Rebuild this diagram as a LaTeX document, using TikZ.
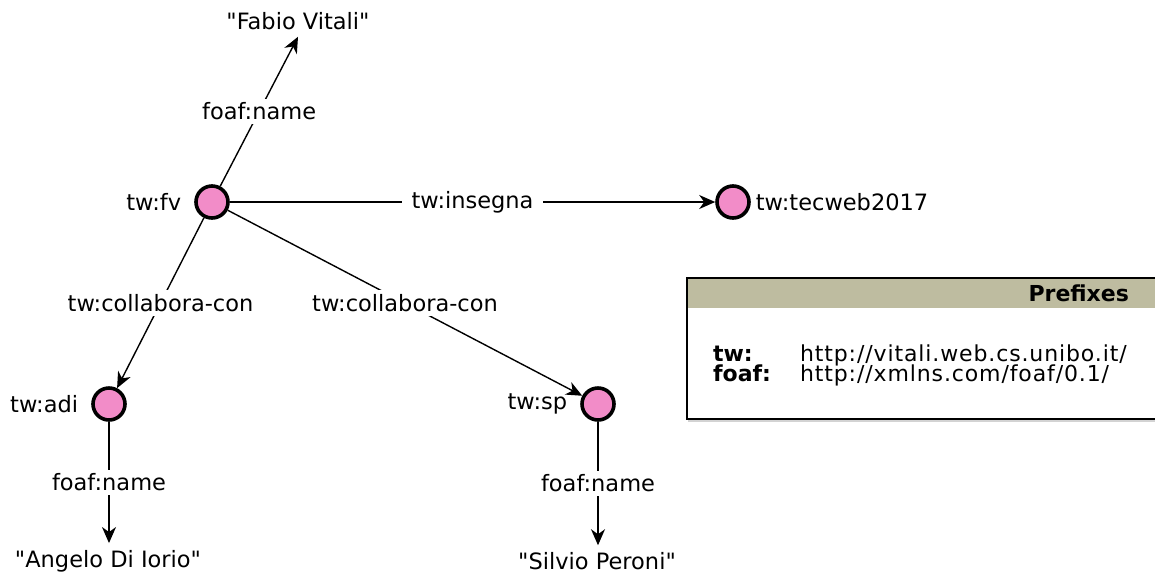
\documentclass[tikz,border=0pt]{standalone}
\usepackage{fontspec}
\setmainfont{DejaVu Sans}
\usetikzlibrary{arrows.meta,shadows}

\definecolor{respink}{RGB}{242,140,200}
\definecolor{headgray}{RGB}{190,188,160}

\begin{document}
\begin{tikzpicture}[x=0.5pt,y=-0.5pt,font=\fontsize{11.25}{13}\selectfont]

    \tikzset{res/.style={%
      draw,%
      circle,%
      line width=1.8pt,%
      fill=respink,%
      minimum size=16pt,%
      inner sep=0pt}%
    };
    \tikzset{prop/.style={%
      fill=white,%
      inner xsep=5pt,%
      inner ysep=2pt}%
    };
    \tikzset{link/.style={-{Stealth[length=8pt,width=7pt,inset=2.5pt]}, line width=0.7pt}};
    \tikzset{boxtext/.style={font=\fontsize{11}{13}\selectfont}};
    \tikzset{boxkey/.style={font=\fontsize{11}{13}\selectfont\bfseries}};

    \useasboundingbox (0,0) rectangle (1155,579);

    %%%%%%%%%%%%%
    % resources %
    %%%%%%%%%%%%%
    \node[res] (fv) at (212,202) {};
    \node[anchor=east] (fvlbl) at ([xshift=-3pt]fv.west) {tw:fv};

    \node[res] (tecweb) at (733,202) {};
    \node[anchor=west] (tecweblbl) at ([xshift=-1pt]tecweb.east) {tw:tecweb2017};

    \node[res] (adi) at (109,404) {};
    \node[anchor=east] (adilbl) at ([xshift=-3pt]adi.west) {tw:adi};

    \node[res] (sp) at (598,404) {};
    \node[anchor=east] (splbl) at ([xshift=-3pt]sp.west) {tw:sp};

    %%%%%%%%%%%%
    % literals %
    %%%%%%%%%%%%
    \node (fvname) at (298,21) {\textquotedbl Fabio Vitali\textquotedbl};
    \node (adiname) at (108,561) {\textquotedbl Angelo Di Iorio\textquotedbl};
    \node (spname) at (597,561) {\textquotedbl Silvio Peroni\textquotedbl};

    %%%%%%%%%%%%%%
    % properties %
    %%%%%%%%%%%%%%
    \draw[link] (fv) -- node[prop] (fvprop) {foaf:name} (fvname.south);
    \draw[link] (fv) -- node[prop] (insegna) {tw:insegna} (tecweb);
    \draw[link] (fv) -- node[prop] (collab1) {tw:collabora-con} (adi);
    \draw[link] (fv) -- node[prop] (collab2) {tw:collabora-con} (sp);
    \draw[link] (adi) -- node[prop] (adiprop) {foaf:name} (adi |- adiname.north);
    \draw[link] (sp) -- node[prop] (spprop) {foaf:name} (sp |- spname.north);

    %%%%%%%%%%%%
    % prefixes %
    %%%%%%%%%%%%
    \draw[fill=white, line width=0.6pt,
      drop shadow={shadow xshift=0.5pt, shadow yshift=-1.5pt, opacity=0.35}]
      (687,278) rectangle (1165,419);
    \fill[headgray] (687,278) rectangle (1165,308);
    \draw[line width=0.6pt] (687,278) rectangle (1165,419);

    \node[boxkey, anchor=east] (preftitle) at (1136,293) {Prefixes};
    \node[boxkey, anchor=base west] (twkey) at (706,361) {tw:};
    \node[boxkey, anchor=base west] (foafkey) at (706,381) {foaf:};
    \node[boxtext, anchor=base west] (twurl) at (793,361)
      {\addfontfeature{LetterSpace=4}http://vitali.web.cs.unibo.it/};
    \node[boxtext, anchor=base west] (foafurl) at (793,381)
      {\addfontfeature{LetterSpace=4}http://xmlns.com/foaf/0.1/};

\end{tikzpicture}
\end{document}
